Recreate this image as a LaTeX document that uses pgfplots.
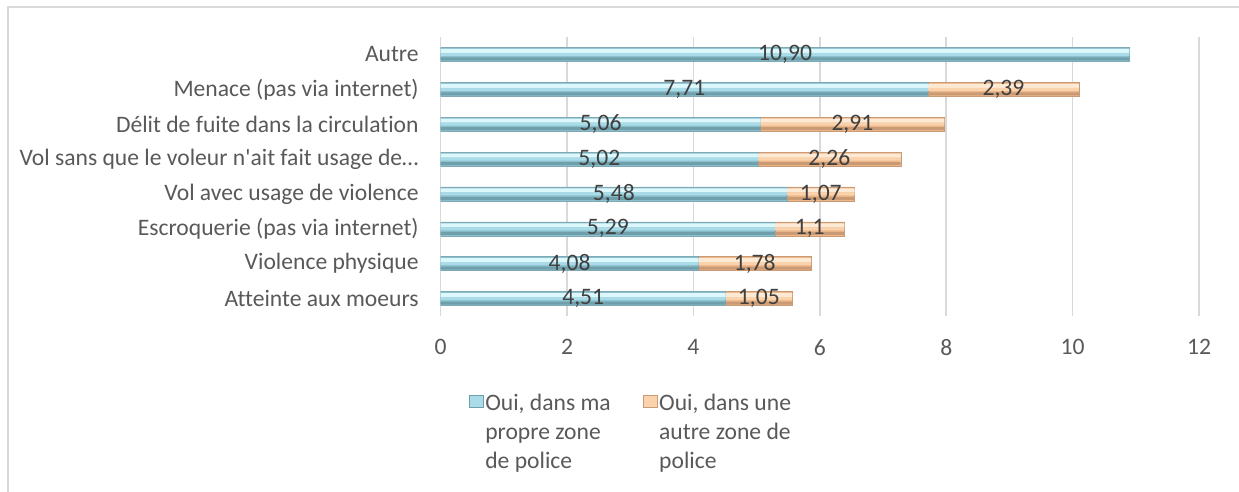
\documentclass[border=0pt]{standalone}
\usepackage{fontspec}
\setmainfont{Carlito}[Ligatures={NoCommon}]
\usepackage{pgfplots}
\usepackage{pgfplotstable}
\pgfplotsset{compat=1.18}
\definecolor{ownfill}{HTML}{8CC0CD}
\definecolor{ownlight}{HTML}{DDF8FC}
\definecolor{ownmid}{HTML}{A9DCE8}
\definecolor{ownshade}{HTML}{6F9FAB}
\definecolor{ownedge}{HTML}{7FAAB5}
\definecolor{othfill}{HTML}{EDB88C}
\definecolor{othlight}{HTML}{FDEAD4}
\definecolor{othmid}{HTML}{FAD2AC}
\definecolor{othshade}{HTML}{C99A74}
\definecolor{othedge}{HTML}{C99A74}
\definecolor{gridgray}{HTML}{D9D9D9}
\definecolor{labelgray}{HTML}{595959}
\definecolor{valgray}{HTML}{404040}

\pgfplotstableread{
pos own other ownlab otherlab
7 10.90 0    {10,90} {}
6 7.71  2.39 {7,71}  {2,39}
5 5.06  2.91 {5,06}  {2,91}
4 5.02  2.26 {5,02}  {2,26}
3 5.48  1.07 {5,48}  {1,07}
2 5.29  1.10 {5,29}  {1,1}
1 4.08  1.78 {4,08}  {1,78}
0 4.51  1.05 {4,51}  {1,05}
}\zones

\pgfplotsset{
  zonebase/.style={
    at={(0,0)}, anchor=south west,
    xbar stacked,
    scale only axis,
    width=758.3bp, height=279bp,
    xmin=0, xmax=12,
    ymin=-0.5, ymax=7.5,
  },
}

\begin{document}
\fontsize{23.6bp}{29bp}\selectfont
\begin{tikzpicture}
\useasboundingbox (-440.7bp,-176bp) rectangle (798.3bp,316bp);
\draw[gridgray, line width=1.5bp] (-432.7bp,-176bp) -- (-432.7bp,309bp) -- (798.3bp,309bp);
\begin{axis}[
    zonebase,
    bar width=14bp,
    xtick={0,2,...,12},
    ytick={0,...,7},
    yticklabels={Atteinte aux moeurs, Violence physique,
      Escroquerie (pas via internet), Vol avec usage de violence,
      {Vol sans que le voleur n\textquotesingle ait fait usage de…},
      Délit de fuite dans la circulation,
      Menace (pas via internet), Autre},
    xmajorgrids,
    major grid style={draw=gridgray, line width=1.5bp},
    axis line style={draw=none},
    major tick length=0pt,
    tick style={draw=none},
    /pgf/number format/assume math mode=true,
    ticklabel style={font=\fontsize{23.6bp}{28bp}\selectfont, text=labelgray},
    yticklabel style={anchor=east, xshift=-14bp},
    xticklabel style={anchor=north, yshift=-15bp},
    legend style={draw=none, at={(0.033,-0.265)}, anchor=north west,
      legend columns=2, font=\fontsize{23.6bp}{29bp}\selectfont,
      text=labelgray,
      nodes={align=left},
      /tikz/every even column/.append style={column sep=30bp}},
    legend cell align=left,
]
\addplot[draw=ownedge, fill=ownfill,
  legend image code/.code={\draw[draw=ownshade, fill=ownmid] (0bp,26bp) rectangle (14bp,38bp);}]
  table[x=own, y=pos] {\zones};
\addplot[draw=othedge, fill=othfill,
  legend image code/.code={\draw[draw=othshade, fill=othmid] (0bp,26bp) rectangle (14bp,38bp);}]
  table[x=other, y=pos] {\zones};
\legend{{Oui, dans ma\\propre zone\\de police}, {Oui, dans une\\autre zone de\\police}}
\end{axis}
% bevel: light top band
\begin{axis}[zonebase, hide axis, bar width=4bp, bar shift=3.5bp]
\addplot[draw=none, fill=ownlight] table[x=own, y=pos] {\zones};
\addplot[draw=none, fill=othlight] table[x=other, y=pos] {\zones};
\end{axis}
% bevel: middle band
\begin{axis}[zonebase, hide axis, bar width=3bp, bar shift=0bp]
\addplot[draw=none, fill=ownmid] table[x=own, y=pos] {\zones};
\addplot[draw=none, fill=othmid] table[x=other, y=pos] {\zones};
\end{axis}
% bevel: dark bottom band
\begin{axis}[zonebase, hide axis, bar width=3bp, bar shift=-4.5bp]
\addplot[draw=none, fill=ownshade] table[x=own, y=pos] {\zones};
\addplot[draw=none, fill=othshade] table[x=other, y=pos] {\zones};
\end{axis}
% data labels on top
\begin{axis}[zonebase, hide axis, bar width=14bp,
    nodes near coords,
    point meta=explicit symbolic,
    every node near coord/.append style={font=\fontsize{23.6bp}{28bp}\selectfont, text=valgray, anchor=center}]
\addplot[draw=none, fill=none] table[x=own, y=pos, meta=ownlab] {\zones};
\addplot[draw=none, fill=none] table[x=other, y=pos, meta=otherlab] {\zones};
\end{axis}
\end{tikzpicture}
\end{document}
